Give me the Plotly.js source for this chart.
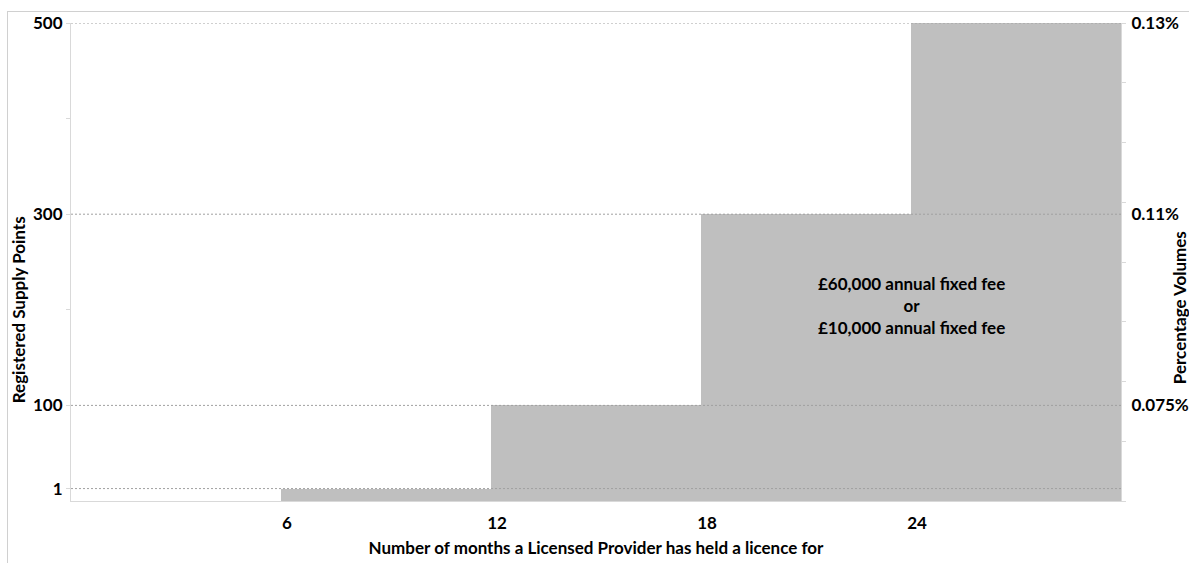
<!DOCTYPE html>
<html>
<head>
<meta charset="utf-8">
<script src="https://cdn.plot.ly/plotly-3.0.1.min.js"></script>
<style>
  html, body { margin: 0; padding: 0; background: #fff; overflow: hidden; }
  #frame { position: absolute; left: 7px; top: 11px; width: 1400px; height: 800px;
           border-left: 1px solid #d0d0d0; border-top: 1px solid #d0d0d0; }
  #chart { position: absolute; left: 0; top: 0; width: 1189px; height: 563px; }
</style>
</head>
<body>
<div id="frame"></div>
<div id="chart"></div>
<script>
// Step starts (months held) and the level reached at each step (axis units)
const monthStarts = [6, 12, 18, 24];
const stepWidthMonths = 6;
const levelValues = [13, 100, 300, 500];
// Left axis tick labels (registered supply points) at each level
const leftTickLabels = ['1', '100', '300', '500'];
// Right axis labels (percentage volumes) at levels 100, 300, 500
const rightTickValues = [100, 300, 500];
const rightTickLabels = ['0.075%', '0.11%', '0.13%'];
const rightMinorTicks = [0, 62.5, 125, 187.5, 250, 312.5, 375, 437.5, 500];
const leftMinorTicks = [200, 400];
const xTickValues = [6, 12, 18, 24];
const xTickLabels = ['6', '12', '18', '24'];
const feeText = '£60,000 annual fixed fee<br>or<br>£10,000 annual fixed fee';

const FONT = 'Lato, "Open Sans", sans-serif';
const txt = (size) => ({ family: FONT, size: size, color: '#000', weight: 'bold' });

const traces = [
  {
    type: 'bar',
    x: monthStarts,
    y: levelValues,
    width: monthStarts.map(() => stepWidthMonths),
    offset: 0,
    marker: { color: '#bfbfbf', line: { width: 0 } },
    hoverinfo: 'skip',
    showlegend: false
  },
  { type: 'scatter', x: [], y: [], yaxis: 'y2', showlegend: false, hoverinfo: 'skip' }
];

const gridShapes = levelValues.map(v => ({
  type: 'line', xref: 'paper', yref: 'y', x0: 0, x1: 1, y0: v, y1: v,
  layer: 'above', line: { color: '#a0a0a0', width: 1, dash: '2px,2px' }
}));

const layout = {
  width: 1189, height: 563,
  margin: { l: 71, r: 68, t: 23, b: 62 },
  paper_bgcolor: 'rgba(0,0,0,0)',
  plot_bgcolor: 'rgba(0,0,0,0)',
  showlegend: false,
  bargap: 0,
  xaxis: {
    range: [0, 30], fixedrange: true,
    tickmode: 'array', tickvals: xTickValues, ticktext: xTickLabels,
    ticks: '', showgrid: false, zeroline: false,
    showline: true, linecolor: '#d9d9d9', linewidth: 1,
    tickfont: txt(17), ticklabelshift: 6, ticklabelstandoff: 7,
    title: { text: 'Number of months a Licensed Provider has held a licence for', font: txt(17), standoff: 9 }
  },
  yaxis: {
    range: [0, 500], fixedrange: true,
    tickmode: 'array', tickvals: levelValues, ticktext: leftTickLabels,
    ticks: 'outside', ticklen: 4, tickcolor: '#d9d9d9',
    minor: { tickmode: 'array', tickvals: leftMinorTicks, ticks: 'outside', ticklen: 4, tickcolor: '#d9d9d9', showgrid: false },
    showgrid: false, zeroline: false,
    showline: true, linecolor: '#d9d9d9', linewidth: 1,
    tickfont: txt(17)
  },
  yaxis2: {
    overlaying: 'y', side: 'right', anchor: 'x',
    range: [0, 500], fixedrange: true,
    tickmode: 'array', tickvals: rightTickValues, ticktext: rightTickLabels,
    ticks: '', ticklabelstandoff: 6,
    minor: { tickmode: 'array', tickvals: rightMinorTicks, ticks: 'outside', ticklen: 4, tickcolor: '#d9d9d9', showgrid: false },
    showgrid: false, zeroline: false,
    showline: true, linecolor: '#d9d9d9', linewidth: 1,
    tickfont: txt(17)
  },
  shapes: gridShapes,
  annotations: [
    {
      xref: 'x', yref: 'y', x: monthStarts[3], y: 204, text: feeText,
      showarrow: false, font: txt(17), align: 'center'
    },
    {
      xref: 'paper', yref: 'paper', x: -0.050, y: 0.40, text: 'Registered Supply Points',
      textangle: -90, showarrow: false, font: txt(17), xanchor: 'center', yanchor: 'middle'
    },
    {
      xref: 'paper', yref: 'paper', x: 1.056, y: 0.405, text: 'Percentage Volumes',
      textangle: -90, showarrow: false, font: txt(17), xanchor: 'center', yanchor: 'middle'
    }
  ]
};

Plotly.newPlot('chart', traces, layout, { displayModeBar: false, staticPlot: true });
</script>
</body>
</html>
